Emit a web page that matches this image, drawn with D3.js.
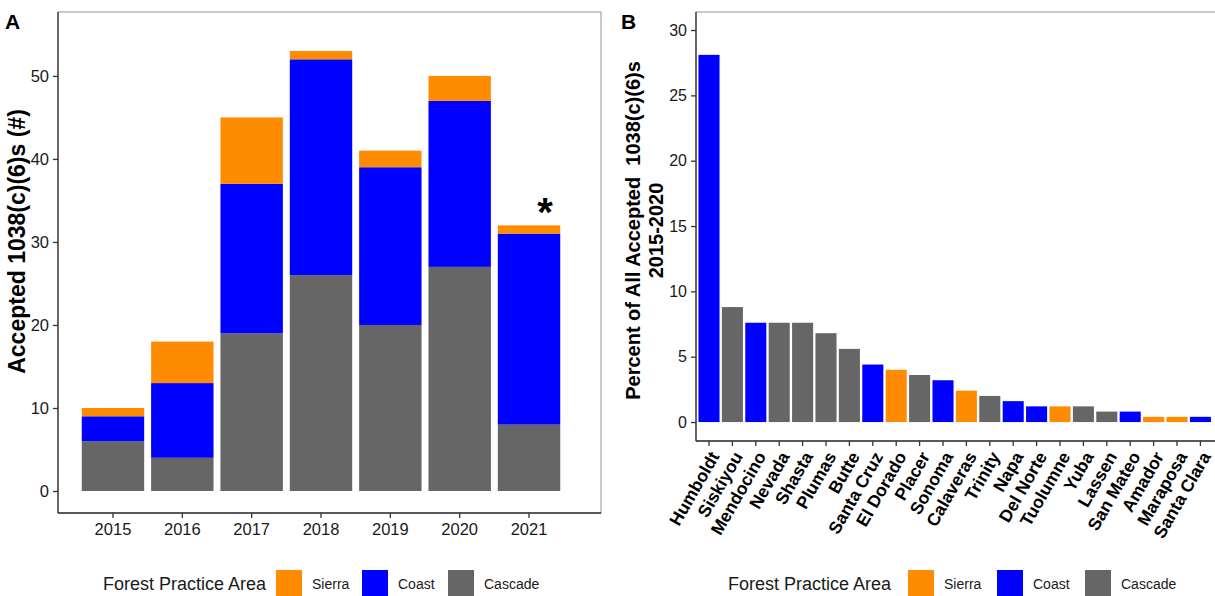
<!DOCTYPE html>
<html>
<head>
<meta charset="utf-8">
<script src="https://cdn.jsdelivr.net/npm/d3@7"></script>
<style>
  body { margin: 0; background: #fff; }
  svg { display: block; font-family: "Liberation Sans", Arial, sans-serif; }
</style>
</head>
<body>
<div id="chart"></div>
<script>
// panel A data: accepted 1038(c)(6)s per year, stacked by forest practice area
const years = ["2015", "2016", "2017", "2018", "2019", "2020", "2021"];
const cascadeA = [6, 4, 19, 26, 20, 27, 8];
const coastA = [3, 9, 18, 26, 19, 20, 23];
const sierraA = [1, 5, 8, 1, 2, 3, 1];
const yTicksA = [0, 10, 20, 30, 40, 50];

// panel B data: percent of all accepted by county
const counties = ["Humboldt", "Siskiyou", "Mendocino", "Nevada", "Shasta", "Plumas", "Butte",
  "Santa Cruz", "El Dorado", "Placer", "Sonoma", "Calaveras", "Trinity", "Napa", "Del Norte",
  "Tuolumne", "Yuba", "Lassen", "San Mateo", "Amador", "Maraposa", "Santa Clara"];
const percents = [28.1, 8.8, 7.6, 7.6, 7.6, 6.8, 5.6, 4.4, 4.0, 3.6, 3.2, 2.4, 2.0, 1.6, 1.2,
  1.2, 1.2, 0.8, 0.8, 0.4, 0.4, 0.4];
const areasB = ["Coast", "Cascade", "Coast", "Cascade", "Cascade", "Cascade", "Cascade",
  "Coast", "Sierra", "Cascade", "Coast", "Sierra", "Cascade", "Coast", "Coast",
  "Sierra", "Cascade", "Cascade", "Coast", "Sierra", "Sierra", "Coast"];
const yTicksB = [0, 5, 10, 15, 20, 25, 30];

const areas = ["Sierra", "Coast", "Cascade"];
const areaColor = d3.scaleOrdinal().domain(areas).range(["#FF8C00", "#0000FF", "#666666"]);

const width = 1215, height = 596;
const svg = d3.select("#chart").append("svg")
  .attr("width", width).attr("height", height)
  .attr("viewBox", [0, 0, width, height]);

// ---------- panel A ----------
const pA = { left: 58, right: 601, top: 12, bottom: 513 };

const xA = d3.scaleBand().domain(years)
  .range([78.3, 563.7]).paddingInner(0.1).paddingOuter(0.05);
const yA = d3.scaleLinear().domain([-2.65, 57.7]).range([pA.bottom, pA.top]);

const rowsA = years.map((yr, i) => ({ year: yr, Cascade: cascadeA[i], Coast: coastA[i], Sierra: sierraA[i] }));
const stackA = d3.stack().keys(["Cascade", "Coast", "Sierra"])(rowsA);

const gA = svg.append("g");
gA.append("rect")
  .attr("x", pA.left).attr("y", pA.top)
  .attr("width", pA.right - pA.left).attr("height", pA.bottom - pA.top)
  .attr("fill", "none").attr("stroke", "#a6a6a6").attr("stroke-width", 1.2);

gA.selectAll("g.layer")
  .data(stackA)
  .join("g")
  .attr("class", "layer")
  .attr("fill", d => areaColor(d.key))
  .selectAll("rect")
  .data(d => d)
  .join("rect")
  .attr("x", d => xA(d.data.year))
  .attr("width", xA.bandwidth())
  .attr("y", d => yA(d[1]))
  .attr("height", d => yA(d[0]) - yA(d[1]));

// asterisk on 2021
const last = rowsA[rowsA.length - 1];
gA.append("text")
  .attr("x", xA(last.year) + xA.bandwidth() / 2 + 16)
  .attr("y", yA(last.Cascade + last.Coast + last.Sierra) + 1)
  .attr("text-anchor", "middle")
  .attr("font-size", 40).attr("font-weight", "bold")
  .text("*");

const axA_y = gA.append("g")
  .attr("transform", `translate(${pA.left},0)`)
  .call(d3.axisLeft(yA).tickValues(yTicksA).tickSize(5).tickPadding(4));
const axA_x = gA.append("g")
  .attr("transform", `translate(0,${pA.bottom})`)
  .call(d3.axisBottom(xA).tickSize(5).tickPadding(5));
[axA_y, axA_x].forEach(ax => {
  ax.select(".domain").attr("stroke", "#333").attr("stroke-width", 1.3);
  ax.selectAll(".tick line").attr("stroke", "#333").attr("stroke-width", 1.3);
  ax.selectAll(".tick text").attr("fill", "#1a1a1a").attr("font-size", 16.5)
    .attr("font-family", "Liberation Sans, Arial, sans-serif");
});
axA_x.select(".domain").attr("d", `M${pA.left},0H${pA.right}`);
axA_y.select(".domain").attr("d", `M0,${pA.top}V${pA.bottom}`);

gA.append("text")
  .attr("transform", `translate(25,${(pA.top + pA.bottom) / 2 - 21}) rotate(-90)`)
  .attr("text-anchor", "middle")
  .attr("font-size", 23).attr("font-weight", "bold")
  .text("Accepted 1038(c)(6)s (#)");

svg.append("text").attr("x", 5).attr("y", 29)
  .attr("font-size", 21).attr("font-weight", "bold").text("A");

// ---------- panel B ----------
const pB = { left: 696, right: 1215, top: 12, bottom: 441 };

const xB = d3.scaleBand().domain(counties)
  .range([709 - 11.7, 1200.4 + 11.7]).paddingInner(0.1).paddingOuter(0.05);
const yB = d3.scaleLinear().domain([-1.45, 31.38]).range([pB.bottom, pB.top]);

const gB = svg.append("g");
gB.append("rect")
  .attr("x", pB.left).attr("y", pB.top)
  .attr("width", pB.right - pB.left + 5).attr("height", pB.bottom - pB.top)
  .attr("fill", "none").attr("stroke", "#a6a6a6").attr("stroke-width", 1.2);

gB.selectAll("rect.bar")
  .data(counties)
  .join("rect")
  .attr("class", "bar")
  .attr("x", d => xB(d))
  .attr("width", xB.bandwidth())
  .attr("y", (d, i) => yB(percents[i]))
  .attr("height", (d, i) => yB(0) - yB(percents[i]))
  .attr("fill", (d, i) => areaColor(areasB[i]));

const axB_y = gB.append("g")
  .attr("transform", `translate(${pB.left},0)`)
  .call(d3.axisLeft(yB).tickValues(yTicksB).tickSize(5).tickPadding(4));
const axB_x = gB.append("g")
  .attr("transform", `translate(0,${pB.bottom})`)
  .call(d3.axisBottom(xB).tickSize(5).tickFormat(""));
[axB_y, axB_x].forEach(ax => {
  ax.select(".domain").attr("stroke", "#333").attr("stroke-width", 1.3);
  ax.selectAll(".tick line").attr("stroke", "#333").attr("stroke-width", 1.3);
  ax.selectAll(".tick text").attr("fill", "#1a1a1a").attr("font-size", 16)
    .attr("font-family", "Liberation Sans, Arial, sans-serif");
});
axB_x.select(".domain").attr("d", `M${pB.left},0H${pB.right}`);
axB_y.select(".domain").attr("d", `M0,${pB.top}V${pB.bottom}`);

// rotated county labels
gB.append("g").selectAll("text")
  .data(counties)
  .join("text")
  .attr("transform", d => `translate(${xB(d) + xB.bandwidth() / 2},${pB.bottom + 9}) rotate(-60)`)
  .attr("dy", "0.72em")
  .attr("text-anchor", "end")
  .attr("font-size", 17.5).attr("font-weight", "bold")
  .attr("fill", "#000")
  .text(d => d);

const titleB = gB.append("text")
  .attr("transform", `translate(640,${(pB.top + pB.bottom) / 2 + 4}) rotate(-90)`)
  .attr("text-anchor", "middle")
  .attr("font-size", 20).attr("font-weight", "bold");
titleB.append("tspan").attr("x", 0).attr("dy", 0).attr("xml:space", "preserve")
  .text("Percent of All Accepted  1038(c)(6)s");
titleB.append("tspan").attr("x", 0).attr("dy", 23).text("2015-2020");

svg.append("text").attr("x", 621).attr("y", 29)
  .attr("font-size", 21).attr("font-weight", "bold").text("B");

// ---------- legends ----------
function legend(x0, keyX) {
  const g = svg.append("g");
  g.append("text").attr("x", x0).attr("y", 590)
    .attr("font-size", 18).attr("fill", "#1a1a1a").text("Forest Practice Area");
  const item = g.selectAll("g.item").data(areas).join("g").attr("class", "item")
    .attr("transform", (d, i) => `translate(${keyX[i]},570)`);
  item.append("rect").attr("width", 26).attr("height", 28)
    .attr("fill", d => areaColor(d));
  item.append("text").attr("x", 36).attr("y", 19)
    .attr("font-size", 14).attr("fill", "#1a1a1a").text(d => d);
}
legend(103, [276, 362, 448]);
legend(728, [908, 997, 1085]);
</script>
</body>
</html>
